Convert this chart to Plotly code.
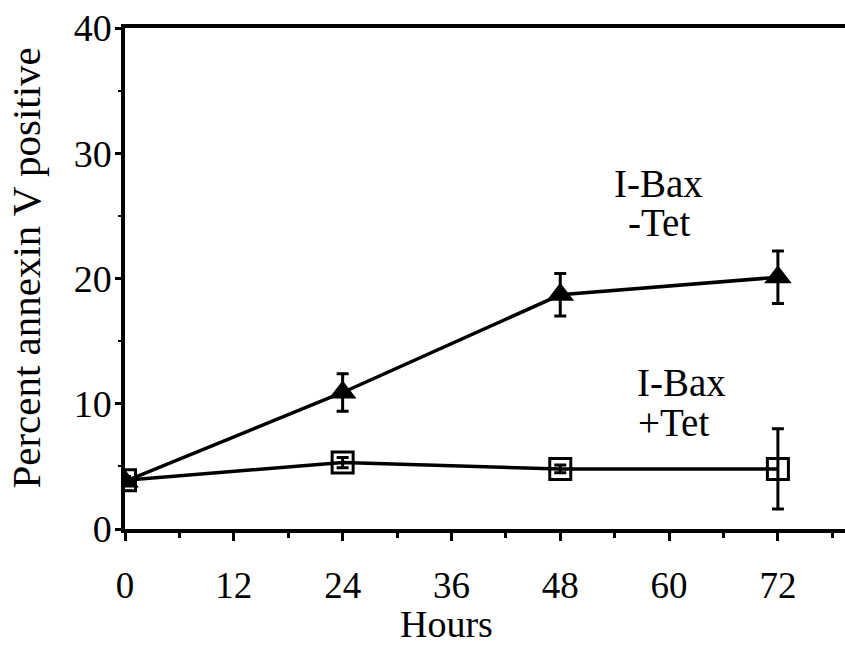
import plotly.graph_objects as go

# Time points (hours)
hours = [0, 24, 48, 72]

# I-Bax without tetracycline (Bax induced)
minus_tet = [3.8, 10.9, 18.7, 20.1]
minus_tet_err = [0.3, 1.5, 1.7, 2.1]

# I-Bax with tetracycline
plus_tet = [3.9, 5.3, 4.8, 4.8]
plus_tet_err = [0.3, 0.4, 0.3, 3.2]

x_ticks = [0, 12, 24, 36, 48, 60, 72]
y_ticks = [0, 10, 20, 30, 40]

FONT = "Liberation Serif"

fig = go.Figure()

fig.add_trace(go.Scatter(
    x=hours, y=plus_tet, mode="lines+markers",
    line=dict(color="black", width=3.5),
    marker=dict(symbol="square-open", size=21, color="black",
                line=dict(color="black", width=3)),
    error_y=dict(type="data", array=plus_tet_err, color="black",
                 thickness=3, width=6),
    showlegend=False,
))

fig.add_trace(go.Scatter(
    x=hours, y=minus_tet, mode="lines+markers",
    line=dict(color="black", width=3.5),
    marker=dict(symbol="triangle-up", size=24, color="black"),
    error_y=dict(type="data", array=minus_tet_err, color="black",
                 thickness=3, width=6),
    showlegend=False,
))

fig.update_xaxes(
    range=[0, 79.4], tickvals=x_ticks, ticktext=[str(v) for v in x_ticks],
    showline=True, linecolor="black", linewidth=3.5, mirror=True,
    ticks="outside", ticklen=8, tickwidth=3, tickcolor="black",
    minor=dict(dtick=6, tick0=0, ticks="outside", ticklen=5,
               tickwidth=3, tickcolor="black", showgrid=False),
    ticklabelstandoff=13,
    showgrid=False, zeroline=False,
    tickfont=dict(family=FONT, size=37, color="black"),
)

fig.update_yaxes(
    range=[0, 40], tickvals=y_ticks, ticktext=[str(v) for v in y_ticks],
    showline=True, linecolor="black", linewidth=3.5,
    ticks="outside", ticklen=6, tickwidth=3, tickcolor="black",
    minor=dict(dtick=5, tick0=0, ticks="outside", ticklen=3,
               tickwidth=2, tickcolor="black", showgrid=False),
    ticklabelstandoff=-4,
    showgrid=False, zeroline=False,
    tickfont=dict(family=FONT, size=38, color="black"),
)

label_font = dict(family=FONT, size=39, color="black")
notes = [
    ("I-Bax", 53.7, 27.6),
    ("-Tet", 55.3, 24.5),
    ("I-Bax", 56.2, 11.66),
    ("+Tet", 56.3, 8.54),
]
for text, xv, yv in notes:
    fig.add_annotation(x=xv, y=yv, xref="x", yref="y", text=text,
                       showarrow=False, xanchor="left", yanchor="middle",
                       font=label_font)

fig.add_annotation(x=0.446, y=-0.19, xref="paper", yref="paper",
                   text="Hours", showarrow=False,
                   xanchor="center", yanchor="middle",
                   font=dict(family=FONT, size=38, color="black"))
fig.add_annotation(x=-0.138, y=0.521, xref="paper", yref="paper",
                   text="Percent annexin V positive", textangle=-90,
                   showarrow=False, xanchor="center", yanchor="middle",
                   font=dict(family=FONT, size=41, color="black"))

fig.update_layout(
    width=845, height=648,
    margin=dict(l=125, r=0, t=28, b=119),
    paper_bgcolor="white", plot_bgcolor="white",
)

fig.write_html("out.html")
